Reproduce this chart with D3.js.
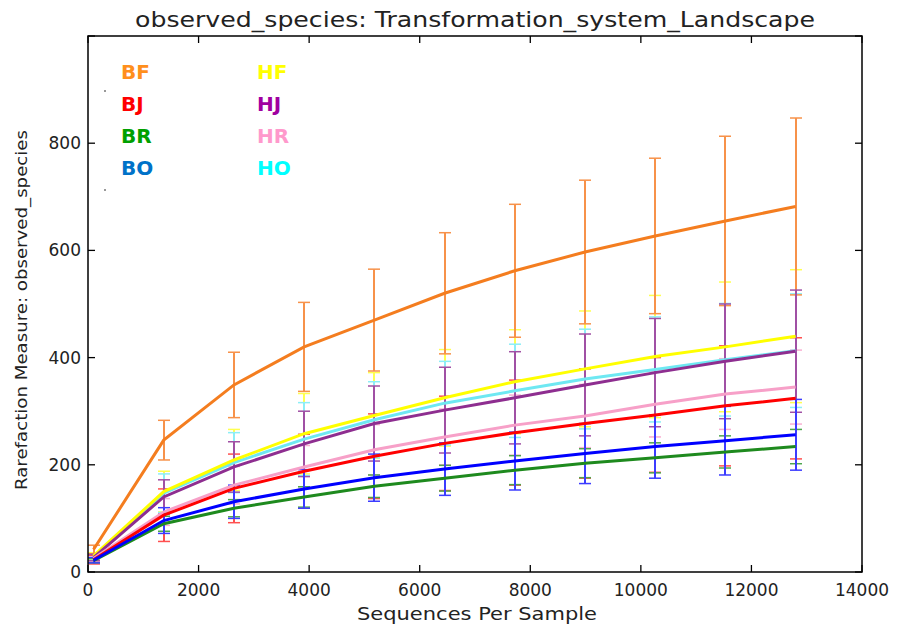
<!DOCTYPE html>
<html>
<head>
<meta charset="utf-8">
<script src="https://d3js.org/d3.v7.min.js"></script>
<style>
  body { margin: 0; background: #fff; }
  svg { font-family: "DejaVu Sans", sans-serif; }
</style>
</head>
<body>
<div id="chart"></div>
<script>
// sampling depths
var samples = [100, 1370, 2640, 3910, 5180, 6450, 7720, 8990, 10260, 11530, 12800];

var groups = ["BF", "BJ", "BR", "BO", "HF", "HJ", "HR", "HO"];

// mean observed species per depth
var meanBF = [42, 246, 349, 420, 470, 520, 562, 597, 627, 655, 682];
var meanBJ = [23, 106, 156, 188, 216, 240, 260, 277, 293, 310, 324];
var meanBR = [21, 90, 119, 140, 160, 175, 190, 203, 213, 224, 234];
var meanBO = [22, 96, 131, 155, 176, 192, 207, 221, 234, 245, 256];
var meanHF = [30, 150, 209, 258, 292, 325, 355, 379, 402, 420, 440];
var meanHJ = [27, 140, 196, 239, 277, 302, 325, 349, 372, 393, 412];
var meanHR = [25, 112, 162, 196, 228, 252, 274, 291, 313, 332, 345];
var meanHO = [28, 147, 204, 248, 284, 315, 338, 360, 378, 396, 413];

// standard deviations
var sdBF = [8, 37, 61, 83, 95, 113, 124, 134, 145, 158, 165];
var sdBJ = [8, 49, 64, 69, 79, 88, 98, 102, 107, 112, 113];
var sdBR = [4, 14, 16, 19, 21, 24, 27, 27, 28, 30, 32];
var sdBO = [5, 24, 31, 36, 44, 49, 54, 56, 59, 64, 66];
var sdHF = [6, 38, 57, 75, 80, 90, 97, 108, 114, 121, 124];
var sdHJ = [6, 32, 47, 61, 70, 80, 86, 95, 101, 107, 114];
var sdHR = [6, 25, 35, 40, 47, 52, 56, 59, 61, 66, 69];
var sdHO = [6, 36, 56, 68, 71, 78, 87, 93, 98, 105, 106];

var xTicks = [0, 2000, 4000, 6000, 8000, 10000, 12000, 14000];
var yTicks = [0, 200, 400, 600, 800, 1000];
var yLabels = [0, 200, 400, 600, 800];

var means = {BF: meanBF, BJ: meanBJ, BR: meanBR, BO: meanBO, HF: meanHF, HJ: meanHJ, HR: meanHR, HO: meanHO};
var sds = {BF: sdBF, BJ: sdBJ, BR: sdBR, BO: sdBO, HF: sdHF, HJ: sdHJ, HR: sdHR, HO: sdHO};

var lineColor = {BF: "#f47d1f", BJ: "#ff0000", BR: "#1e8a1e", BO: "#0000ff",
                 HF: "#ffff00", HJ: "#8e2e90", HR: "#f7a0c8", HO: "#6ee8f2"};
var barColor = {BF: "#f7924a", BJ: "#ff5050", BR: "#4ea64e", BO: "#3c3cff",
                HF: "#ffff50", HJ: "#a050a4", HR: "#f8b0d2", HO: "#8ceef6"};
var legendColor = {BF: "#ff8f1c", BJ: "#ff0000", BR: "#00a000", BO: "#0072c8",
                   HF: "#ffff00", HJ: "#a000a0", HR: "#ff99cc", HO: "#00ffff"};

var width = 897, height = 626;
var margin = {left: 88, right: 35, top: 36, bottom: 54};

var svg = d3.select("#chart").append("svg")
    .attr("width", width)
    .attr("height", height);

var x = d3.scaleLinear().domain([0, 14000]).range([margin.left, width - margin.right]);
var y = d3.scaleLinear().domain([0, 1000]).range([height - margin.bottom, margin.top]);

// snap the error bar stems to whole pixels so overlapping stems don't blend
function xs(v) { return Math.round(x(v)); }

// error bars first, in the stacking order seen in the picture
var barOrder = ["HF", "HO", "HR", "BJ", "BR", "BF", "HJ", "BO"];
var capW = 6;
barOrder.forEach(function(g) {
  var pts = samples.map(function(s, i) { return {s: s, m: means[g][i], sd: sds[g][i]}; });
  var eg = svg.append("g").attr("stroke", barColor[g]);
  eg.selectAll("line.v").data(pts).enter().append("line")
    .attr("stroke-width", 2)
    .attr("x1", function(d) { return xs(d.s); })
    .attr("x2", function(d) { return xs(d.s); })
    .attr("y1", function(d) { return y(d.m - d.sd); })
    .attr("y2", function(d) { return y(d.m + d.sd); });
  [-1, 1].forEach(function(k) {
    eg.selectAll("line.c" + (k + 1)).data(pts).enter().append("line")
      .attr("stroke-width", 1.5)
      .attr("x1", function(d) { return xs(d.s) - capW; })
      .attr("x2", function(d) { return xs(d.s) + capW; })
      .attr("y1", function(d) { return y(d.m + k * d.sd); })
      .attr("y2", function(d) { return y(d.m + k * d.sd); });
  });
});

var line = d3.line()
    .x(function(d) { return x(d[0]); })
    .y(function(d) { return y(d[1]); });

var lineOrder = ["BF", "HO", "HF", "HJ", "HR", "BJ", "BR", "BO"];
lineOrder.forEach(function(g) {
  svg.append("path")
    .datum(samples.map(function(s, i) { return [s, means[g][i]]; }))
    .attr("fill", "none")
    .attr("stroke", lineColor[g])
    .attr("stroke-width", 3)
    .attr("d", line);
});

// frame
var x0 = x(0), x1 = x(14000), y0 = y(0), y1 = y(1000);
svg.append("rect")
  .attr("x", x0).attr("y", y1)
  .attr("width", x1 - x0).attr("height", y0 - y1)
  .attr("fill", "none").attr("stroke", "#000").attr("stroke-width", 1.5);

// inward ticks on all four sides
var tk = 7;
var ticks = svg.append("g").attr("stroke", "#000").attr("stroke-width", 1.3);
xTicks.forEach(function(t) {
  ticks.append("line").attr("x1", x(t)).attr("x2", x(t)).attr("y1", y0).attr("y2", y0 - tk);
  ticks.append("line").attr("x1", x(t)).attr("x2", x(t)).attr("y1", y1).attr("y2", y1 + tk);
});
yTicks.forEach(function(t) {
  ticks.append("line").attr("x1", x0).attr("x2", x0 + tk).attr("y1", y(t)).attr("y2", y(t));
  ticks.append("line").attr("x1", x1).attr("x2", x1 - tk).attr("y1", y(t)).attr("y2", y(t));
});

svg.selectAll("text.xt").data(xTicks).enter().append("text")
  .attr("x", function(d) { return x(d); })
  .attr("y", y0 + 24)
  .attr("text-anchor", "middle")
  .attr("font-size", 17)
  .attr("fill", "#222")
  .text(function(d) { return d; });

svg.selectAll("text.yt").data(yLabels).enter().append("text")
  .attr("x", x0 - 7)
  .attr("y", function(d) { return y(d) + 6; })
  .attr("text-anchor", "end")
  .attr("font-size", 17)
  .attr("fill", "#222")
  .text(function(d) { return d; });

svg.append("text")
  .attr("x", (x0 + x1) / 2).attr("y", 27)
  .attr("text-anchor", "middle")
  .attr("font-size", 22)
  .attr("fill", "#222")
  .attr("textLength", 680).attr("lengthAdjust", "spacingAndGlyphs")
  .text("observed_species: Transformation_system_Landscape");

svg.append("text")
  .attr("x", 477).attr("y", 620)
  .attr("text-anchor", "middle")
  .attr("font-size", 17)
  .attr("fill", "#222")
  .attr("textLength", 240).attr("lengthAdjust", "spacingAndGlyphs")
  .text("Sequences Per Sample");

svg.append("text")
  .attr("transform", "translate(27,310) rotate(-90)")
  .attr("text-anchor", "middle")
  .attr("font-size", 16)
  .attr("fill", "#222")
  .attr("textLength", 360).attr("lengthAdjust", "spacingAndGlyphs")
  .text("Rarefaction Measure: observed_species");

// legend: coloured labels in two columns
var legend = svg.append("g").attr("font-size", 20).attr("font-weight", "bold");
groups.forEach(function(g, i) {
  legend.append("text")
    .attr("x", i < 4 ? 121 : 257)
    .attr("y", 79 + (i % 4) * 32)
    .attr("fill", legendColor[g])
    .text(g);
});

// two stray grey marks left of the legend
[91, 190].forEach(function(py) {
  svg.append("rect").attr("x", 104).attr("y", py - 1).attr("width", 2).attr("height", 2).attr("fill", "#999");
});
</script>
</body>
</html>
